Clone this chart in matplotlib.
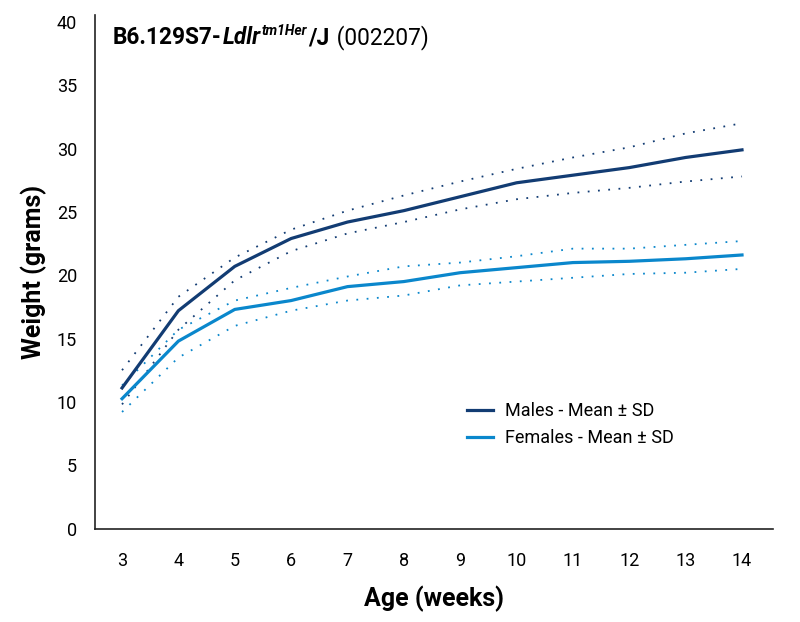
import numpy as np
import matplotlib
matplotlib.use("Agg")
import matplotlib.pyplot as plt

weeks = [3, 4, 5, 6, 7, 8, 9, 10, 11, 12, 13, 14]
male_mean = [11.1, 17.2, 20.7, 22.9, 24.2, 25.1, 26.2, 27.3, 27.9, 28.5, 29.3, 29.9]
male_upper = [12.5, 18.3, 21.4, 23.6, 25.1, 26.3, 27.4, 28.4, 29.3, 30.1, 31.2, 32.0]
male_lower = [9.8, 15.7, 19.6, 21.9, 23.3, 24.2, 25.2, 26.0, 26.5, 26.9, 27.4, 27.8]
female_mean = [10.25, 14.8, 17.3, 18.0, 19.1, 19.5, 20.2, 20.6, 21.0, 21.1, 21.3, 21.6]
female_upper = [11.3, 15.7, 18.0, 19.0, 19.9, 20.7, 21.0, 21.5, 22.1, 22.1, 22.4, 22.7]
female_lower = [9.2, 13.5, 16.0, 17.2, 18.0, 18.4, 19.2, 19.5, 19.8, 20.1, 20.2, 20.5]

male_color = "#123c73"
female_color = "#0a87cc"

plt.rcParams["font.family"] = ["Roboto", "DejaVu Sans"]

fig = plt.figure(figsize=(8.0, 6.22), dpi=100)
ax = fig.add_axes([95 / 800, 1 - 528.5 / 622, (773 - 95) / 800, (528.5 - 15) / 622])

dot_style = (0, (1, 4.7))
ax.plot(weeks, male_upper, color=male_color, lw=1.3, linestyle=dot_style)
ax.plot(weeks, male_lower, color=male_color, lw=1.3, linestyle=dot_style)
ax.plot(weeks, female_upper, color=female_color, lw=1.3, linestyle=dot_style)
ax.plot(weeks, female_lower, color=female_color, lw=1.3, linestyle=dot_style)
ax.plot(weeks, male_mean, color=male_color, lw=2.3, label="Males - Mean \u00b1 SD")
ax.plot(weeks, female_mean, color=female_color, lw=2.3, label="Females - Mean \u00b1 SD")

ax.set_xlim(2.52, 14.55)
ax.set_ylim(0, 40.55)
ax.set_xticks(weeks)
ax.set_yticks(np.arange(0, 41, 5))
ax.tick_params(length=0, labelsize=13)
ax.tick_params(axis="x", pad=17)
ax.tick_params(axis="y", pad=13)

for s in ["top", "right"]:
    ax.spines[s].set_visible(False)
for s in ["left", "bottom"]:
    ax.spines[s].set_linewidth(1.2)
    ax.spines[s].set_color("#222222")

ax.set_xlabel("Age (weeks)", fontsize=18, fontweight="bold", labelpad=11)
ax.set_ylabel("Weight (grams)", fontsize=18, fontweight="bold")
ax.yaxis.set_label_coords(-0.071, 0.5)

ax.legend(loc="upper left", bbox_to_anchor=(0.525, 0.278), frameon=False,
          fontsize=13, handlelength=1.45, handletextpad=0.67, labelspacing=0.5)

# title built from pieces so the italic gene name and superscript sit inline
fig.canvas.draw()
renderer = fig.canvas.get_renderer()
x0, y0 = 113, 622 - 44
pieces = [
    ("B6.129S7-", dict(fontsize=16.3, fontweight="bold"), 0),
    ("Ldlr", dict(fontsize=16.3, fontweight="bold", style="italic"), 0),
    ("tm1Her", dict(fontsize=10, fontweight="bold", style="italic"), 9),
    ("/J", dict(fontsize=16.3, fontweight="bold"), 0),
    (" (002207)", dict(fontsize=16.3), 0),
]
x = x0
for txt, kw, dy in pieces:
    t = fig.text(x / 800, (y0 + dy) / 622, txt, ha="left", va="baseline", **kw)
    bb = t.get_window_extent(renderer)
    x = x + bb.width + 1

plt.savefig("out.png", dpi=100)
